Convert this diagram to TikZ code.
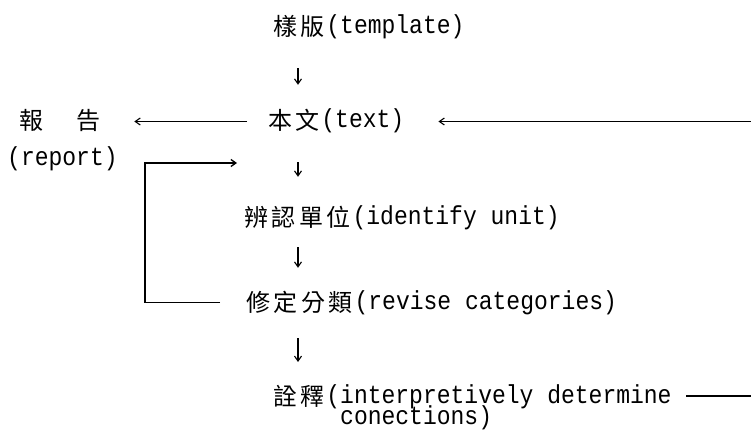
\documentclass[tikz,border=0pt]{standalone}
\usepackage{fontspec}
\newfontfamily\monof[FakeStretch=0.885]{Liberation Mono}
\newfontfamily\cjkf{Noto Sans CJK TC}
\usetikzlibrary{arrows.meta}
\newcommand\cc[1]{\makebox[27.6pt]{\raisebox{-2pt}{\cjkf\fontsize{24}{24}\selectfont #1}}}
\newcommand\tightlines{\lineskiplimit=-50pt\relax}
\begin{document}
\begin{tikzpicture}[x=1pt,y=-1pt,
  lbl/.style={anchor=base west, inner sep=0pt, text height=18pt, text depth=5pt,
    font=\monof\fontsize{26}{18}\selectfont},
  interp/.style={anchor=north west, inner sep=0pt, align=left,
    font={\monof\fontsize{26}{21}\selectfont\tightlines}},
  arr/.style={-{Straight Barb[length=5pt,width=7pt]}, line width=1.1pt},
  bk/.style={line width=1.3pt},
  bkarr/.style={bk, -{Straight Barb[length=5pt,width=7pt]}}]
\useasboundingbox[fill=white] (0,0) rectangle (751,430);
\coordinate (ax) at (298,0);
\node[lbl] (tmpl) at (271,34) {\cc{樣}\cc{版}(template)};
\node[lbl] (text) at (266,128) {\cc{本}\cc{文}(text)};
\node[lbl] (rep) at (17.7,128) {\cc{報}\hspace{29pt}\cc{告}};
\node[lbl] (rep2) at (7,166) {(report)};
\node[lbl] (unit) at (242,224) {\cc{辨}\cc{認}\cc{單}\cc{位}(identify unit)};
\node[lbl] (rev) at (244,309) {\cc{修}\cc{定}\cc{分}\cc{類}(revise categories)};
\node[interp] (interp) at (271,384) {\cc{詮}\cc{釋}(interpretively determine\\ \hspace*{69pt}conections)};
\coordinate (ri) at (751,121.5);
\coordinate (ro) at (751,396);
\coordinate (fb) at (237,163);
% vertical flow
\draw[arr, shorten <=29pt, shorten >=25pt] (tmpl.south -| ax) -- (text.north -| ax);
\draw[arr, shorten <=29pt, shorten >=29pt] (text.south -| ax) -- (unit.north -| ax);
\draw[arr, shorten <=18pt, shorten >=23pt] (unit.south -| ax) -- (rev.north -| ax);
\draw[arr, shorten <=24pt, shorten >=22pt] (rev.south -| ax) -- (interp.north -| ax);
% horizontal
\draw[arr, shorten <=19pt, shorten >=32pt] (text.west) -- (rep.east);
\draw[arr, shorten >=34pt] (ri) -- (text.east);
\draw[bk, shorten >=14pt] (ro) -- (ro -| interp.east);
% feedback bracket
\draw[bkarr, shorten <=24pt] (rev.west) -- ++(-99,0) |- (fb);
\end{tikzpicture}
\end{document}
